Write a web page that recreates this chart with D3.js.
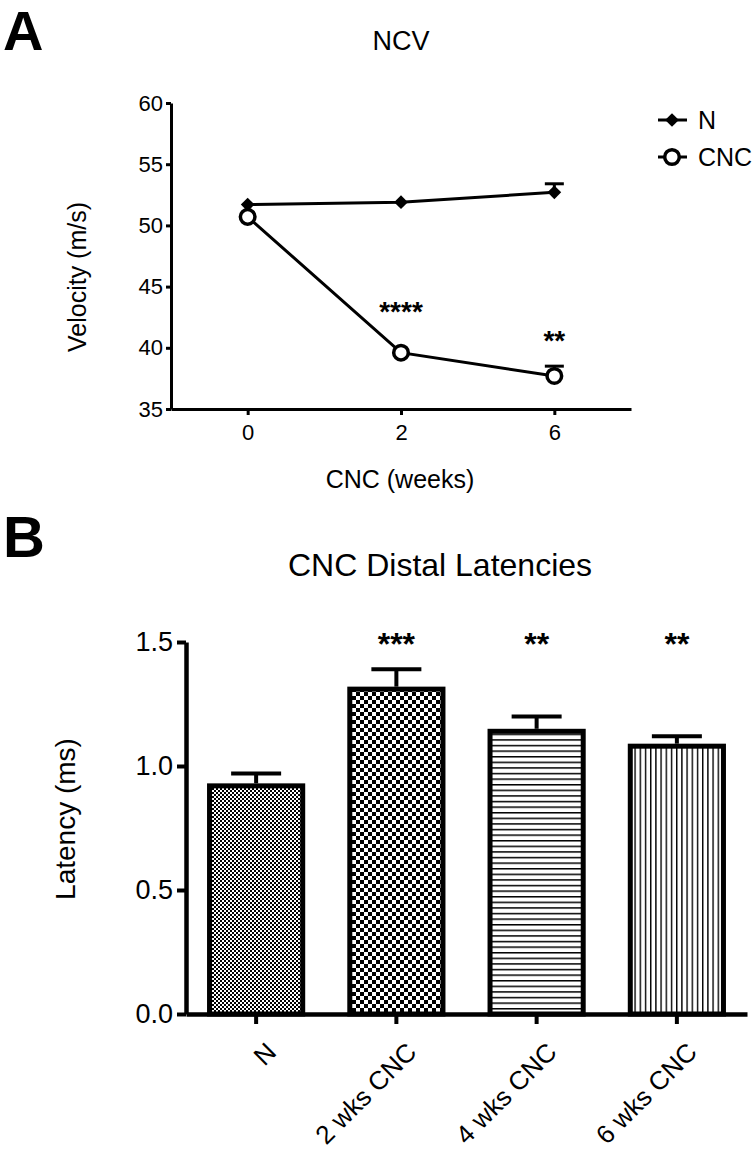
<!DOCTYPE html>
<html><head><meta charset="utf-8">
<script src="https://cdn.jsdelivr.net/npm/d3@7"></script>
<style>body{margin:0;background:#fff}svg{display:block}text{font-family:"Liberation Sans",Arial,sans-serif;fill:#000}</style>
</head><body>
<script>
// Panel A data
const weeks = ["0", "2", "6"];
const nValues = [51.7, 51.9, 52.7];
const nErr = [0, 0, 0.7];
const cncValues = [50.7, 39.6, 37.7];
const cncErr = [0, 0, 0.8];
const aSig = ["", "****", "**"];
const aYTicks = [35, 40, 45, 50, 55, 60];

// Panel B data
const groups = ["N", "2 wks CNC", "4 wks CNC", "6 wks CNC"];
const latency = [0.93, 1.32, 1.15, 1.09];
const latErr = [0.04, 0.07, 0.05, 0.03];
const bSig = ["", "***", "**", "**"];
const bYTicks = [0.0, 0.5, 1.0, 1.5];

const W = 756, H = 1153;
const svg = d3.select("body").append("svg").attr("width", W).attr("height", H);
const defs = svg.append("defs");

// patterns
const pN = defs.append("pattern").attr("id","pN").attr("patternUnits","userSpaceOnUse").attr("width",4).attr("height",4);
pN.append("rect").attr("width",4).attr("height",4).attr("fill","#fff");
pN.append("rect").attr("width",2).attr("height",2).attr("fill","#000");
pN.append("rect").attr("x",2).attr("y",2).attr("width",2).attr("height",2).attr("fill","#000");
const p2 = defs.append("pattern").attr("id","p2").attr("patternUnits","userSpaceOnUse").attr("width",8).attr("height",8);
p2.append("rect").attr("width",8).attr("height",8).attr("fill","#fff");
p2.append("rect").attr("width",4).attr("height",4).attr("fill","#000");
p2.append("rect").attr("x",4).attr("y",4).attr("width",4).attr("height",4).attr("fill","#000");
const p4 = defs.append("pattern").attr("id","p4").attr("patternUnits","userSpaceOnUse").attr("width",10).attr("height",5.6);
p4.append("rect").attr("width",10).attr("height",5.6).attr("fill","#fff");
p4.append("rect").attr("y",0).attr("width",10).attr("height",1.5).attr("fill","#000");
const p6 = defs.append("pattern").attr("id","p6").attr("patternUnits","userSpaceOnUse").attr("width",5.2).attr("height",10);
p6.append("rect").attr("width",5.2).attr("height",10).attr("fill","#fff");
p6.append("rect").attr("x",0).attr("width",1.4).attr("height",10).attr("fill","#000");
const fills = ["url(#pN)","url(#p2)","url(#p4)","url(#p6)"];

// ---------- Panel A ----------
svg.append("text").attr("x",3).attr("y",50).attr("font-size",56).attr("font-weight","bold").text("A");
svg.append("text").attr("x",401).attr("y",50).attr("font-size",27).attr("text-anchor","middle").text("NCV");

const xA = d3.scalePoint().domain(weeks).range([171,631]).padding(0.5);
const yA = d3.scaleLinear().domain([35,60]).range([409,103]);

const gA = svg.append("g");
const yAxA = gA.append("g").attr("transform","translate(171,0)")
  .call(d3.axisLeft(yA).tickValues(aYTicks).tickSize(5).tickSizeOuter(0).tickPadding(3));
const xAxA = gA.append("g").attr("transform","translate(0,409)")
  .call(d3.axisBottom(xA).tickSize(6).tickSizeOuter(0).tickPadding(8));
[yAxA, xAxA].forEach(a => {
  a.select(".domain").attr("stroke","#000").attr("stroke-width",3);
  a.selectAll(".tick line").attr("stroke","#000").attr("stroke-width",3);
  a.selectAll(".tick text").attr("font-size",22).attr("font-family","Liberation Sans, Arial, sans-serif").attr("fill","#000");
});
xAxA.selectAll(".tick text").attr("dy","0.75em");

svg.append("text").attr("transform","translate(86,277) rotate(-90)").attr("font-size",25).attr("text-anchor","middle").text("Velocity (m/s)");
svg.append("text").attr("x",400).attr("y",488).attr("font-size",25).attr("text-anchor","middle").text("CNC (weeks)");

const lineA = d3.line().x((d,i)=>xA(weeks[i])).y(d=>yA(d));
function errA(vals, errs){
  vals.forEach((v,i)=>{
    if (!errs[i]) return;
    const x = xA(weeks[i]);
    gA.append("line").attr("x1",x).attr("x2",x).attr("y1",yA(v)).attr("y2",yA(v+errs[i])).attr("stroke","#000").attr("stroke-width",3);
    gA.append("line").attr("x1",x-9.5).attr("x2",x+9.5).attr("y1",yA(v+errs[i])).attr("y2",yA(v+errs[i])).attr("stroke","#000").attr("stroke-width",3);
  });
}
errA(nValues, nErr);
errA(cncValues, cncErr);
gA.append("path").datum(nValues).attr("d",lineA).attr("fill","none").attr("stroke","#000").attr("stroke-width",3);
gA.append("path").datum(cncValues).attr("d",lineA).attr("fill","none").attr("stroke","#000").attr("stroke-width",3);
const diamond = d3.symbol().type(d3.symbolDiamond2).size(120);
gA.selectAll(".dn").data(nValues).enter().append("path")
  .attr("transform",(d,i)=>`translate(${xA(weeks[i])},${yA(d)})`).attr("d",diamond).attr("fill","#000");
gA.selectAll(".dc").data(cncValues).enter().append("circle")
  .attr("cx",(d,i)=>xA(weeks[i])).attr("cy",d=>yA(d)).attr("r",7.3).attr("fill","#fff").attr("stroke","#000").attr("stroke-width",3.5);
// significance A
const sigYA = [0, 321, 350];
aSig.forEach((s,i)=>{ if(s) svg.append("text").attr("x",xA(weeks[i])).attr("y",sigYA[i]).attr("font-size",28).attr("font-weight","bold").attr("text-anchor","middle").text(s); });

// legend A
const lg = svg.append("g");
lg.append("line").attr("x1",658).attr("x2",687).attr("y1",120).attr("y2",120).attr("stroke","#000").attr("stroke-width",3);
lg.append("path").attr("transform","translate(672,120)").attr("d",diamond).attr("fill","#000");
lg.append("text").attr("x",698).attr("y",129).attr("font-size",25).text("N");
lg.append("line").attr("x1",658).attr("x2",687).attr("y1",157).attr("y2",157).attr("stroke","#000").attr("stroke-width",3);
lg.append("circle").attr("cx",672).attr("cy",157).attr("r",7.3).attr("fill","#fff").attr("stroke","#000").attr("stroke-width",3.5);
lg.append("text").attr("x",698).attr("y",166).attr("font-size",25).text("CNC");

// ---------- Panel B ----------
svg.append("text").attr("x",3).attr("y",557).attr("font-size",58).attr("font-weight","bold").text("B");
svg.append("text").attr("x",440).attr("y",576).attr("font-size",32).attr("text-anchor","middle").text("CNC Distal Latencies");

const xB = d3.scaleBand().domain(groups).range([186,747]).paddingInner(0.3).paddingOuter(0.15);
const yB = d3.scaleLinear().domain([0,1.5]).range([1014,642]);
const gB = svg.append("g");

gB.selectAll(".bar").data(latency).enter().append("rect")
  .attr("x",(d,i)=>xB(groups[i])+2.5).attr("width",xB.bandwidth()-5)
  .attr("y",d=>yB(d)+2.5).attr("height",d=>yB(0)-yB(d)-2.5)
  .attr("fill",(d,i)=>fills[i]).attr("stroke","#000").attr("stroke-width",5);
latency.forEach((v,i)=>{
  const x = xB(groups[i]) + xB.bandwidth()/2;
  gB.append("line").attr("x1",x).attr("x2",x).attr("y1",yB(v)).attr("y2",yB(v+latErr[i])).attr("stroke","#000").attr("stroke-width",4);
  gB.append("line").attr("x1",x-25).attr("x2",x+25).attr("y1",yB(v+latErr[i])).attr("y2",yB(v+latErr[i])).attr("stroke","#000").attr("stroke-width",4);
  if (bSig[i]) svg.append("text").attr("x",x).attr("y",655).attr("font-size",32).attr("font-weight","bold").attr("text-anchor","middle").text(bSig[i]);
});

const yAxB = gB.append("g").attr("transform","translate(186,0)")
  .call(d3.axisLeft(yB).tickValues(bYTicks).tickFormat(d3.format(".1f")).tickSize(9).tickSizeOuter(0).tickPadding(4));
const xAxB = gB.append("g").attr("transform","translate(0,1014)")
  .call(d3.axisBottom(xB).tickSize(10).tickSizeOuter(0).tickPadding(6));
[yAxB, xAxB].forEach(a => {
  a.select(".domain").attr("stroke","#000").attr("stroke-width",4.5);
  a.selectAll(".tick line").attr("stroke","#000").attr("stroke-width",4);
  a.selectAll(".tick text").attr("font-size",27).attr("font-family","Liberation Sans, Arial, sans-serif").attr("fill","#000");
});
xAxB.selectAll(".tick text").attr("text-anchor","end").attr("dy","0.35em")
  .attr("transform","translate(4,22) rotate(-45)").attr("font-size",26);

svg.append("text").attr("transform","translate(75,819) rotate(-90)").attr("font-size",28).attr("text-anchor","middle").text("Latency (ms)");
</script>
</body></html>
